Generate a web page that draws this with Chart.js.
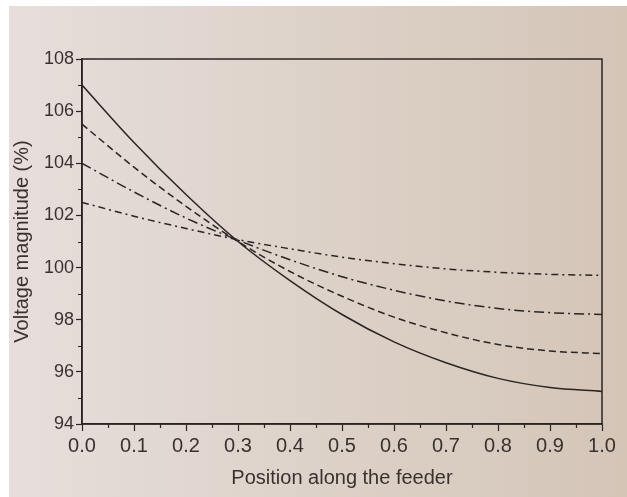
<!DOCTYPE html>
<html>
<head>
<meta charset="utf-8">
<script src="https://cdn.jsdelivr.net/npm/chart.js@4.4.0/dist/chart.umd.min.js"></script>
<style>
  html, body { margin: 0; padding: 0; background: #ffffff; }
  #wrap { width: 627px; height: 497px; }
</style>
</head>
<body>
<div id="wrap"><canvas id="feederChart" width="627" height="497"></canvas></div>
<script>
// position along the feeder (per unit)
var positions = [0.0, 0.1, 0.2, 0.3, 0.4, 0.5, 0.6, 0.7, 0.8, 0.9, 1.0];

// voltage magnitude (%)
var solidCurve    = [107.0, 104.8, 102.8, 101.0, 99.5, 98.2, 97.15, 96.35, 95.75, 95.4, 95.25];
var dashedCurve   = [105.5, 103.85, 102.35, 101.0, 99.85, 98.9, 98.1, 97.5, 97.05, 96.8, 96.7];
var dashDotLong   = [104.0, 102.9, 101.9, 101.05, 100.3, 99.65, 99.13, 98.72, 98.43, 98.27, 98.2];
var dashDotShort  = [102.5, 101.97, 101.5, 101.07, 100.72, 100.4, 100.15, 99.95, 99.82, 99.74, 99.7];

var yMin = 94, yMax = 108;
var xMin = 0, xMax = 1;

var ink = '#2a2522';
var textInk = '#38322f';
var fontFam = 'Liberation Sans, Arial, sans-serif';

function pts(vals) {
    return positions.map(function(p, i) { return { x: p, y: vals[i] }; });
}

// paper background + white margin of the photo
var paperPlugin = {
    id: 'paper',
    beforeDraw: function(chart) {
        var c = chart.ctx;
        c.save();
        c.fillStyle = '#ffffff';
        c.fillRect(0, 0, chart.width, chart.height);
        var g = c.createLinearGradient(9, 0, chart.width, 0);
        g.addColorStop(0, '#e7dedb');
        g.addColorStop(0.5, '#ddd2c9');
        g.addColorStop(1, '#d4c5b7');
        c.fillStyle = g;
        c.fillRect(9, 6, chart.width - 9, chart.height - 6);
        c.restore();
    }
};

// frame round the plot and the minor ticks
var framePlugin = {
    id: 'frame',
    afterDraw: function(chart) {
        var c = chart.ctx, a = chart.chartArea;
        var xs = chart.scales.x, ys = chart.scales.y;
        c.save();
        c.strokeStyle = ink;
        c.lineWidth = 1.5;
        c.strokeRect(a.left, a.top, a.right - a.left, a.bottom - a.top);
        c.lineWidth = 1.2;
        c.beginPath();
        for (var v = yMin + 1; v < yMax; v += 2) {
            var py = Math.round(ys.getPixelForValue(v)) + 0.5;
            c.moveTo(a.left, py);
            c.lineTo(a.left - 4, py);
        }
        for (var k = 1; k < 20; k += 2) {
            var px = Math.round(xs.getPixelForValue(k * 0.05)) + 0.5;
            c.moveTo(px, a.bottom);
            c.lineTo(px, a.bottom + 4);
        }
        c.stroke();
        c.restore();
    }
};

var ctx = document.getElementById('feederChart').getContext('2d');
new Chart(ctx, {
    type: 'line',
    data: {
        datasets: [
            { label: 'solid', data: pts(solidCurve), borderColor: ink, borderWidth: 1.5 },
            { label: 'dashed', data: pts(dashedCurve), borderColor: ink, borderWidth: 1.5, borderDash: [7, 4] },
            { label: 'dash-dot long', data: pts(dashDotLong), borderColor: ink, borderWidth: 1.5, borderDash: [10, 4, 2, 4] },
            { label: 'dash-dot', data: pts(dashDotShort), borderColor: ink, borderWidth: 1.5, borderDash: [7, 4, 2, 4] }
        ]
    },
    options: {
        responsive: false,
        animation: false,
        parsing: false,
        cubicInterpolationMode: 'monotone',
        elements: { point: { radius: 0 } },
        layout: { padding: { top: 59, right: 25, left: 0, bottom: 0 } },
        plugins: {
            legend: { display: false },
            tooltip: { enabled: false }
        },
        scales: {
            x: {
                type: 'linear',
                min: xMin,
                max: xMax,
                afterFit: function(s) { s.height = 73; },
                border: { display: true, color: ink, width: 1.5 },
                grid: { drawOnChartArea: false, color: ink, tickLength: 7, tickWidth: 1.2 },
                ticks: {
                    stepSize: 0.1,
                    color: textInk,
                    padding: 3,
                    maxRotation: 0,
                    font: { family: fontFam, size: 20 },
                    callback: function(v) { return v.toFixed(1); }
                },
                title: {
                    display: true,
                    text: 'Position along the feeder',
                    color: textInk,
                    padding: { top: 0, bottom: 7 },
                    font: { family: fontFam, size: 20 }
                }
            },
            y: {
                min: yMin,
                max: yMax,
                afterFit: function(s) { s.width = 82; },
                border: { display: true, color: ink, width: 1.5 },
                grid: { drawOnChartArea: false, color: ink, tickLength: 6, tickWidth: 1.2 },
                ticks: {
                    stepSize: 2,
                    color: textInk,
                    padding: 2,
                    font: { family: fontFam, size: 18 }
                },
                title: {
                    display: true,
                    text: 'Voltage magnitude (%)',
                    color: textInk,
                    padding: { top: 10, bottom: 0 },
                    font: { family: fontFam, size: 20 }
                }
            }
        }
    },
    plugins: [paperPlugin, framePlugin]
});
</script>
</body>
</html>
